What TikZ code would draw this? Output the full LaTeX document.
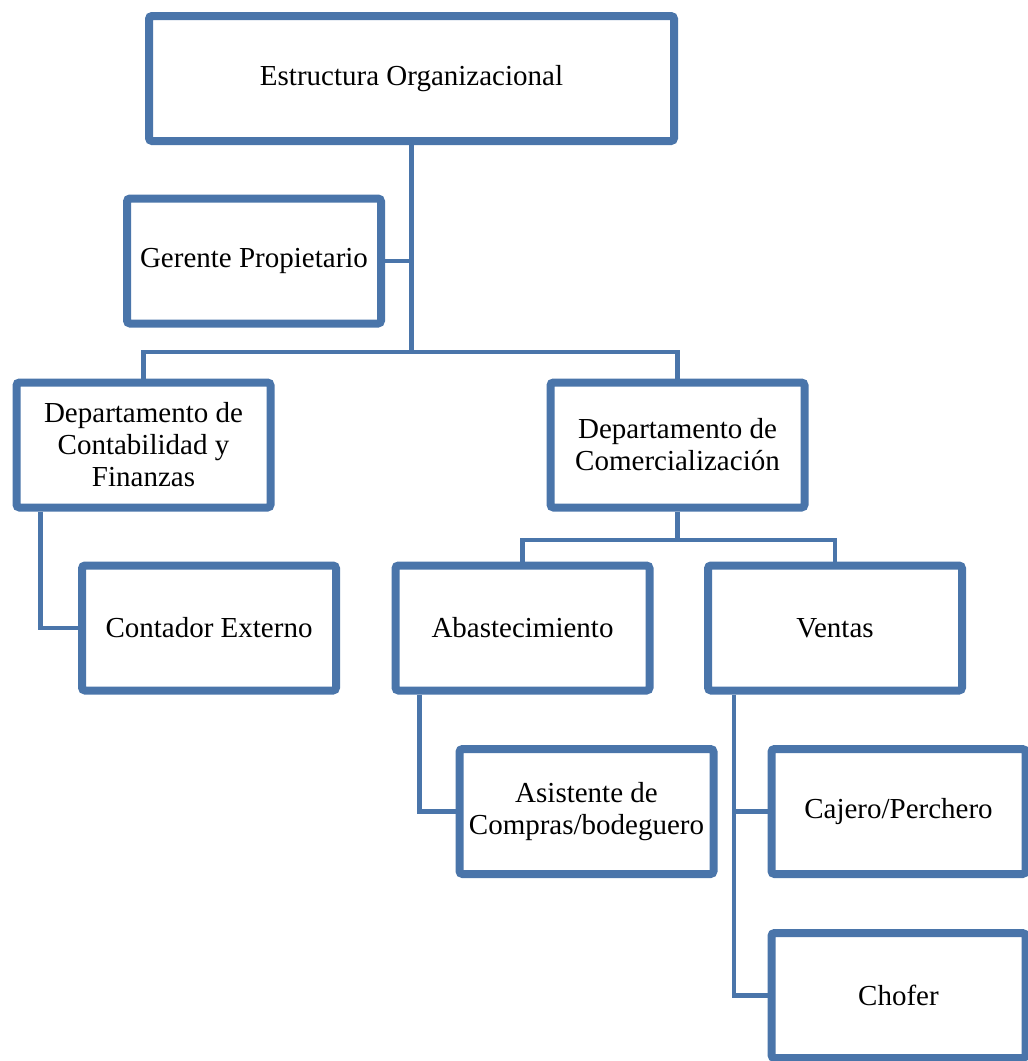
\documentclass[tikz,border=0pt]{standalone}
\usepackage{fontspec}
\setmainfont{Liberation Serif}
\usetikzlibrary{shadows,backgrounds}
\definecolor{orgblue}{RGB}{74,117,170}
\begin{document}
\begin{tikzpicture}[x=1pt,y=-1pt,
  orgbox/.style={draw=orgblue, line width=8pt, fill=white, rounded corners=3pt,
    align=center, inner sep=0pt, minimum width=254pt, minimum height=125pt,
    font=\fontsize{29}{32}\selectfont,
    drop shadow={shadow xshift=2pt, shadow yshift=-3pt, opacity=0.25, fill=black}},
  link/.style={draw=orgblue, line width=4.5pt}]
\useasboundingbox (0,0) rectangle (1028,1061);
\clip (0,0) rectangle (1028,1061);
\coordinate (j1) at (411.5,352);
\coordinate (j2) at (677.5,540);
% boxes
\node[orgbox, minimum width=525pt] (top) at (411.5,78.5) {Estructura Organizacional};
\node[orgbox] (ger) at (254,261) {Gerente Propietario};
\node[orgbox] (cont) at (143.5,445) {Departamento de\\Contabilidad y\\Finanzas};
\node[orgbox] (com) at (677.5,445) {Departamento de\\Comercialización};
\node[orgbox] (contx) at (209,628) {Contador Externo};
\node[orgbox] (abas) at (522.5,628) {Abastecimiento};
\node[orgbox] (ven) at (835,628) {Ventas};
\node[orgbox] (asis) at (586.5,811.5) {Asistente de\\Compras/bodeguero};
\node[orgbox] (caj) at (898.5,811.5) {Cajero/Perchero};
\node[orgbox] (cho) at (898.5,995.5) {Chofer};
% connectors
\begin{scope}[link]
\draw (top.south) -- (j1);
\draw (ger.east) -- (ger.east -| top.south);
\draw (cont.north) |- (j1) -| (com.north);
\draw (com.south) -- (j2);
\draw (abas.north) |- (j2) -| (ven.north);
\draw ([xshift=28pt]cont.south west) |- (contx.west);
\draw ([xshift=28pt]abas.south west) |- (asis.west);
\draw ([xshift=30pt]ven.south west) |- (caj.west);
\draw ([xshift=30pt]ven.south west) |- (cho.west);
\end{scope}
\end{tikzpicture}
\end{document}
